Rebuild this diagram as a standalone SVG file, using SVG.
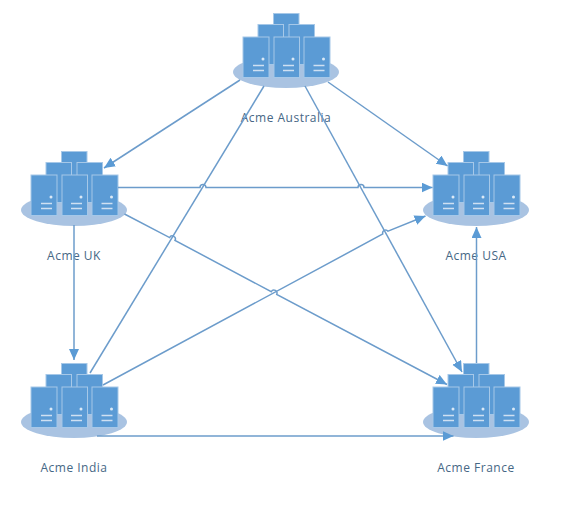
<svg xmlns="http://www.w3.org/2000/svg" width="561" height="509" viewBox="0 0 561 509">
<style>
.disc{fill:#a9c3e2}
.box{fill:#5b9bd5;stroke:#a6c8e8;stroke-width:1}
.mark{fill:#dbe9f6}
.dash{stroke:#cfe0f2;stroke-width:1.6;fill:none}
.lbl{font-family:"Open Sans","Noto Sans",sans-serif;font-size:12px;fill:#466785;text-anchor:middle;letter-spacing:.5px}
.c{fill:none;stroke:#6c9ccb;stroke-width:1.5}
.a{marker-end:url(#arrow)}
</style>
<defs>
<marker id="arrow" markerUnits="userSpaceOnUse" markerWidth="12" markerHeight="11" refX="11" refY="5" orient="auto">
<path d="M0 0L11 5L0 10Z" fill="#5b9bd5"/>
</marker>
<g id="server">
<ellipse class="disc" cx="0" cy="72" rx="53" ry="16"/>
<rect class="box" x="-12.5" y="13.500" width="25.5" height="30"/>
<rect class="box" x="-28" y="24.500" width="25.5" height="40"/>
<rect class="box" x="3" y="24.500" width="25.5" height="40"/>
<g id="u1"><rect class="box" x="-43" y="37" width="26" height="40.5"/><circle class="mark" cx="-23" cy="59" r="1.5"/><path class="dash" d="M-33 65.500h11M-33 70.500h11"/></g>
<g id="u2"><rect class="box" x="-12" y="37" width="25.5" height="40.5"/><circle class="mark" cx="7" cy="59" r="1.5"/><path class="dash" d="M-3 65.500h11M-3 70.500h11"/></g>
<g id="u3"><rect class="box" x="18" y="37" width="26" height="40.5"/><circle class="mark" cx="37.500" cy="59" r="1.5"/><path class="dash" d="M27.500 65.500h11M27.500 70.500h11"/></g>
</g>
</defs>
<rect width="561" height="509" fill="#fff"/>
<g id="node-australia"><use href="#server" x="286" y="0"/><text class="lbl" x="286" y="122">Acme Australia</text></g>
<g id="node-uk"><use href="#server" x="74" y="138"/><text class="lbl" x="74" y="260">Acme UK</text></g>
<g id="node-usa"><use href="#server" x="476" y="138"/><text class="lbl" x="476" y="260">Acme USA</text></g>
<g id="node-india"><use href="#server" x="74" y="350"/><text class="lbl" x="74" y="472">Acme India</text></g>
<g id="node-france"><use href="#server" x="476" y="350"/><text class="lbl" x="476" y="472">Acme France</text></g>
<g id="connectors">
<path class="c a" d="M240 80L104 168"/>
<path class="c a" d="M328 82L447.500 166"/>
<path class="c" d="M264 86L90 373"/>
<path class="c a" d="M305 86L462 372"/>
<path class="c a" d="M118 187.500H200A3 3 0 0 1 206 187.500H358A3 3 0 0 1 364 187.500H432.500"/>
<path class="c a" d="M124.500 214L169.600 237.600A3 3 0 0 1 175 240.400L271.300 291.700A3 3 0 0 1 276.700 294.500L447 384.500"/>
<path class="c a" d="M74 225V360"/>
<path class="c a" d="M103 385L382.800 234A3 3 0 0 1 388 231.200L425.500 216"/>
<path class="c a" d="M97 436H453.500"/>
<path class="c a" d="M476.500 363V227"/>
</g>
</svg>
